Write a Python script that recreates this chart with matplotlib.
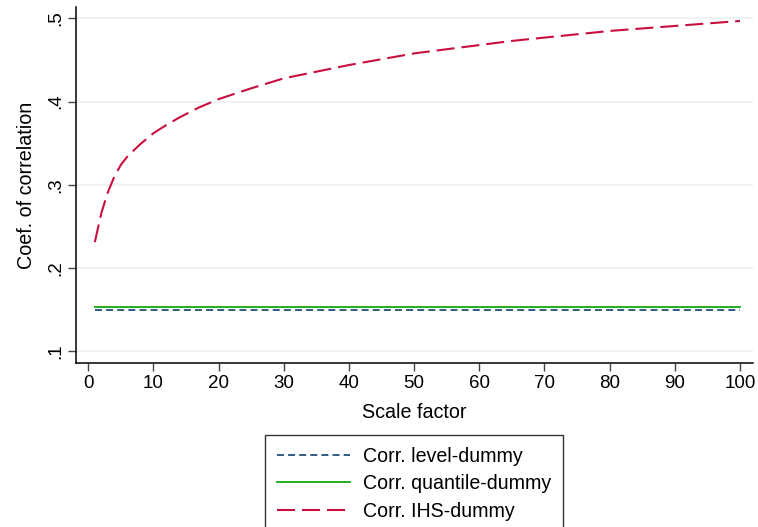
import matplotlib
matplotlib.use('Agg')
import matplotlib.pyplot as plt

# Scale factor grid and the three correlation series.
scale = [1, 2, 3, 4, 5, 6, 8, 10, 12, 14, 17, 20, 25, 30, 35, 40, 45, 50,
         55, 60, 65, 70, 75, 80, 85, 90, 95, 100]
corr_ihs = [0.231, 0.266, 0.291, 0.310, 0.324, 0.334, 0.349, 0.362, 0.372,
            0.381, 0.393, 0.403, 0.416, 0.428, 0.436, 0.444, 0.451, 0.458,
            0.463, 0.468, 0.473, 0.477, 0.481, 0.485, 0.488, 0.491, 0.494,
            0.497]
corr_level = [0.1495] * len(scale)
corr_quantile = [0.1525] * len(scale)

labels = ['Corr. level-dummy', 'Corr. quantile-dummy', 'Corr. IHS-dummy']
x_ticks = list(range(0, 101, 10))
y_ticks = [0.1, 0.2, 0.3, 0.4, 0.5]
y_tick_labels = ['.1', '.2', '.3', '.4', '.5']

plt.rcParams['font.family'] = ['Liberation Sans', 'DejaVu Sans']
plt.rcParams['lines.scale_dashes'] = False

navy = '#1f4e7a'
green = '#10a810'
red = '#c8103e'

fig = plt.figure(figsize=(7.58, 5.27), dpi=100)
ax = fig.add_axes([76 / 758, 1 - 363.3 / 527, (752.7 - 76) / 758, (363.3 - 7) / 527])

ax.plot(scale, corr_level, color=navy, lw=1.3, dashes=(5, 3), label=labels[0])
ax.plot(scale, corr_quantile, color=green, lw=1.3, label=labels[1])
ax.plot(scale, corr_ihs, color=red, lw=1.5, dashes=(13, 5), label=labels[2])

ax.set_xlim(-1.89, 101.95)
ax.set_ylim(0.0852, 0.5138)
ax.set_xticks(x_ticks)
ax.set_yticks(y_ticks)
ax.set_yticklabels(y_tick_labels, rotation=90, va='center')
ax.tick_params(labelsize=13.5, length=5.5, width=1, color='#444444', pad=3)
ax.grid(axis='y', color='#eaf0f2', lw=1.2)
ax.set_axisbelow(True)

for side in ('top', 'right'):
    ax.spines[side].set_visible(False)
for side in ('left', 'bottom'):
    ax.spines[side].set_linewidth(1.1)

ax.set_xlabel('Scale factor', fontsize=14.2, labelpad=8)
ax.set_ylabel('Coef. of correlation', fontsize=14.2, labelpad=8)

leg = fig.legend(loc='upper center', bbox_to_anchor=(414 / 758, 1 - 435 / 527),
                 fontsize=14.1, frameon=True, fancybox=False, edgecolor='black',
                 handlelength=3.73, handletextpad=0.66, borderpad=0.59,
                 labelspacing=0.44, borderaxespad=0)
leg.get_frame().set_linewidth(1.0)

fig.savefig('out.png', dpi=100)
